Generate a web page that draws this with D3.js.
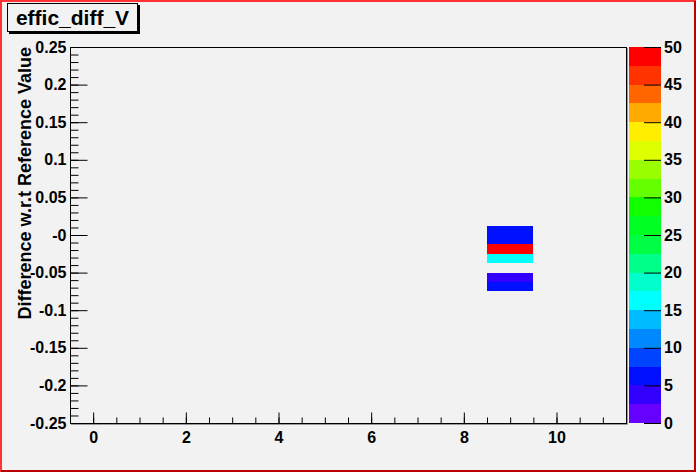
<!doctype html>
<html>
  <head>
    <meta charset="utf-8">
    <title>effic_diff_V</title>
    <script src="https://cdnjs.cloudflare.com/ajax/libs/d3/7.8.5/d3.min.js"></script>
    <style>
      body { margin: 0; background: #f2f2f2; }
      svg { display: block; font-family: "Liberation Sans", Arial, sans-serif; font-weight: bold; }
    </style>
  </head>
  <body>
    <div id="chart"></div>
    <script>
      // histogram cells (bin centre on x, lower edge on y) and their contents
      const cellX = [9, 9, 9, 9, 9, 9];
      const cellYLow = [0, -0.0125, -0.025, -0.0375, -0.0625, -0.075];
      const cellValue = [6, 6, 50, 16, 4, 6];

      const xTicks = [0, 2, 4, 6, 8, 10];
      const yTicks = [0.25, 0.2, 0.15, 0.1, 0.05, 0, -0.05, -0.1, -0.15, -0.2, -0.25];
      const yTickLabels = ['0.25', '0.2', '0.15', '0.1', '0.05', '-0', '-0.05', '-0.1', '-0.15', '-0.2', '-0.25'];
      const zTicks = [0, 5, 10, 15, 20, 25, 30, 35, 40, 45, 50];

      // 20 contour colours, bottom (0) to top (50)
      const palette = ['#6600ff', '#3300ff', '#0010ff', '#0044ff', '#0088ff',
                       '#00bbff', '#00ffff', '#00ffcc', '#00ff88', '#00ff44',
                       '#00ff22', '#11ff00', '#66ff00', '#99ff00', '#ddff00',
                       '#ffee00', '#ffaa00', '#ff6600', '#ff3300', '#ff0000'];

      const W = 696, H = 472;
      const frame = { left: 70, top: 47, right: 626, bottom: 423 };
      const binW = 1, binH = 0.0125;

      const svg = d3.select('#chart').append('svg')
        .attr('width', W).attr('height', H);

      // canvas with bevel border
      svg.append('rect').attr('width', W).attr('height', H).attr('fill', '#f2f2f2');
      svg.append('path').attr('d', `M1,${H} V1 H${W}`).attr('stroke', '#ff3333').attr('stroke-width', 2).attr('fill', 'none');
      svg.append('path').attr('d', `M1,${H - 1} H${W - 1} V1`).attr('stroke', '#bb0000').attr('stroke-width', 2).attr('fill', 'none');

      const x = d3.scaleLinear().domain([-0.5, 11.5]).range([frame.left, frame.right]);
      const y = d3.scaleLinear().domain([-0.25, 0.25]).range([frame.bottom, frame.top]);
      const z = d3.scaleQuantize().domain([0, 50]).range(palette);

      // cells
      svg.append('g').selectAll('rect')
        .data(cellValue)
        .join('rect')
        .attr('x', (d, i) => x(cellX[i] - binW / 2))
        .attr('width', (d, i) => x(cellX[i] + binW / 2) - x(cellX[i] - binW / 2))
        .attr('y', (d, i) => y(cellYLow[i] + binH))
        .attr('height', (d, i) => y(cellYLow[i]) - y(cellYLow[i] + binH))
        .attr('fill', d => z(d))
        .attr('shape-rendering', 'crispEdges');

      // frame
      svg.append('path')
        .attr('d', `M${frame.left + 1},${frame.bottom + 1.5} H${frame.right + 1.5} V${frame.top + 1}`)
        .attr('stroke', '#999').attr('fill', 'none');
      svg.append('rect')
        .attr('x', frame.left + 0.5).attr('y', frame.top + 0.5)
        .attr('width', frame.right - frame.left).attr('height', frame.bottom - frame.top)
        .attr('fill', 'none').attr('stroke', '#000');

      // y axis
      const yAxis = svg.append('g').attr('transform', `translate(${frame.left + 0.5},0)`)
        .call(d3.axisLeft(y).tickValues(yTicks).tickSizeInner(-17).tickSizeOuter(0).tickPadding(4)
          .tickFormat((d, i) => yTickLabels[i]));
      svg.append('g').attr('transform', `translate(${frame.left + 0.5},0)`)
        .call(d3.axisLeft(y).tickValues(d3.range(-25, 26).map(v => v / 100)).tickSizeInner(-8).tickSizeOuter(0).tickFormat(''))
        .select('.domain').remove();

      // x axis
      const xAxis = svg.append('g').attr('transform', `translate(0,${frame.bottom + 0.5})`)
        .call(d3.axisBottom(x).tickValues(xTicks).tickSizeInner(-11).tickSizeOuter(0).tickPadding(8));
      svg.append('g').attr('transform', `translate(0,${frame.bottom + 0.5})`)
        .call(d3.axisBottom(x).tickValues(d3.range(0, 23).map(v => v / 2)).tickSizeInner(-6).tickSizeOuter(0).tickFormat(''))
        .select('.domain').remove();

      // colour bar
      const cb = { left: 629, right: 661 };
      const zy = d3.scaleLinear().domain([0, 50]).range([frame.bottom, frame.top]);
      svg.append('g').selectAll('rect')
        .data(palette)
        .join('rect')
        .attr('x', cb.left)
        .attr('width', cb.right - cb.left)
        .attr('y', (d, i) => zy((i + 1) * 2.5))
        .attr('height', (d, i) => zy(i * 2.5) - zy((i + 1) * 2.5))
        .attr('fill', d => d)
        .attr('shape-rendering', 'crispEdges');
      const zAxis = svg.append('g').attr('transform', `translate(${cb.right},0)`)
        .call(d3.axisRight(zy).tickValues(zTicks).tickSizeInner(-17).tickSizeOuter(0).tickPadding(3));

      [yAxis, xAxis, zAxis].forEach(a => {
        a.select('.domain').remove();
        a.selectAll('text').attr('font-size', 16).attr('fill', '#000');
        a.attr('font-family', null).attr('font-size', null);
      });
      svg.selectAll('.tick line').attr('stroke', '#000');

      // y axis title
      svg.append('text')
        .attr('transform', `translate(31,${frame.top}) rotate(-90)`)
        .attr('text-anchor', 'end')
        .attr('font-size', 18)
        .text('Difference w.r.t Reference Value');

      // title box
      svg.append('rect').attr('x', 9).attr('y', 5).attr('width', 131).attr('height', 29).attr('fill', '#000');
      svg.append('rect').attr('x', 7.5).attr('y', 3.5).attr('width', 130).attr('height', 28)
        .attr('fill', '#f2f2f2').attr('stroke', '#000');
      svg.append('text').attr('x', 72.5).attr('y', 25).attr('text-anchor', 'middle')
        .attr('font-size', 21).text('effic_diff_V');
    </script>
  </body>
</html>
